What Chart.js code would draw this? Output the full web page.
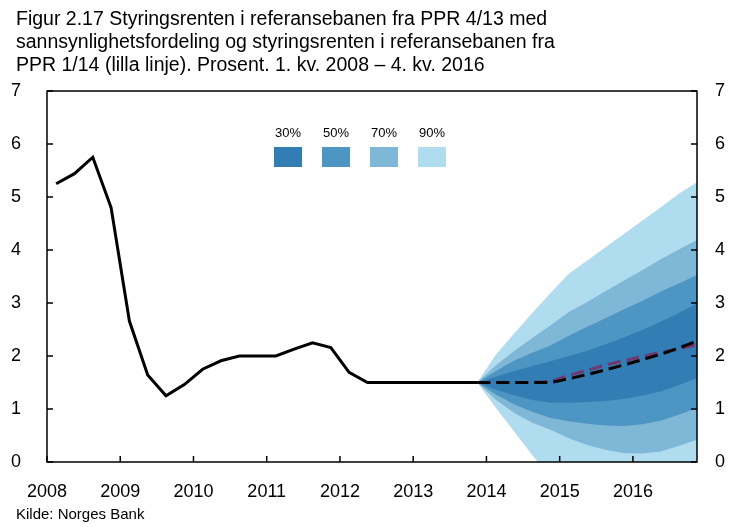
<!DOCTYPE html>
<html><head><meta charset="utf-8">
<script src="https://cdn.jsdelivr.net/npm/chart.js@4/dist/chart.umd.min.js"></script>
<style>
html,body{margin:0;padding:0;background:#fff;}
#wrap{position:relative;width:738px;height:527px;font-family:"Liberation Sans",Arial,Helvetica,sans-serif;color:#000;overflow:hidden;}
#title{position:absolute;left:16px;top:7px;font-size:19.5px;line-height:23px;white-space:nowrap;}
#source{position:absolute;left:16px;top:505px;font-size:15px;line-height:17px;white-space:nowrap;}
#chart{position:absolute;left:0;top:0;}
.lgt{position:absolute;width:40px;text-align:center;font-size:13px;line-height:15px;}
.lgb{position:absolute;width:28px;height:20px;}
</style></head>
<body>
<div id="wrap">
<canvas id="chart" width="738" height="527"></canvas>
<div id="title">Figur 2.17 Styringsrenten i referansebanen fra PPR 4/13 med<br>sannsynlighetsfordeling og styringsrenten i referansebanen fra<br>PPR 1/14 (lilla linje). Prosent. 1. kv. 2008 – 4. kv. 2016</div>
<div id="legend"></div>
<div id="source">Kilde: Norges Bank</div>
</div>
<script>
// ---- categories ----
const histQuarters = ['2008Q1','2008Q2','2008Q3','2008Q4','2009Q1','2009Q2','2009Q3','2009Q4',
  '2010Q1','2010Q2','2010Q3','2010Q4','2011Q1','2011Q2','2011Q3','2011Q4',
  '2012Q1','2012Q2','2012Q3','2012Q4','2013Q1','2013Q2','2013Q3','2013Q4'];
const fcQuarters = ['2013Q4','2014Q1','2014Q2','2014Q3','2014Q4','2015Q1','2015Q2','2015Q3','2015Q4',
  '2016Q1','2016Q2','2016Q3','2016Q4'];
// ---- series ----
const policyRate = [5.25,5.44,5.75,4.80, 2.66,1.64,1.25,1.46, 1.75,1.91,2.00,2.00,
  2.00,2.13,2.25,2.16, 1.69,1.50,1.50,1.50, 1.50,1.50,1.50,1.50];
const pathPPR413 = [1.50,1.50,1.50,1.50,1.50, 1.57,1.65,1.74,1.83, 1.93,2.03,2.15,2.28];
const pathPPR114 = [1.50,1.50,1.50,1.50,1.52, 1.63,1.73,1.83,1.91, 1.99,2.07,2.14,2.21];
const upper90 = [1.50,2.02,2.42,2.81,3.19, 3.55,3.80,4.05,4.30, 4.55,4.80,5.06,5.28];
const upper70 = [1.50,1.82,2.09,2.34,2.58, 2.83,3.02,3.22,3.42, 3.62,3.82,4.01,4.19];
const upper50 = [1.50,1.71,1.91,2.06,2.20, 2.38,2.55,2.71,2.88, 3.04,3.21,3.37,3.53];
const upper30 = [1.50,1.61,1.71,1.81,1.90, 2.00,2.10,2.22,2.35, 2.49,2.64,2.81,2.99];
const lower30 = [1.50,1.37,1.26,1.17,1.12, 1.12,1.13,1.15,1.19, 1.25,1.33,1.45,1.58];
const lower50 = [1.50,1.28,1.09,0.95,0.83, 0.77,0.72,0.69,0.68, 0.71,0.78,0.89,1.02];
const lower70 = [1.50,1.18,0.93,0.74,0.61, 0.45,0.32,0.23,0.17, 0.16,0.20,0.30,0.42];
const lower90 = [1.50,1.03,0.58,0.13,-0.30, -0.60,-0.80,-0.90,-0.95, -0.95,-0.90,-0.85,-0.80];
// ---- ticks / legend ----
const xTickYears = [2008,2009,2010,2011,2012,2013,2014,2015,2016];
const yTicks = [0,1,2,3,4,5,6,7];
const legendLabels = ['30%','50%','70%','90%'];

const C30='#327db4', C50='#4d95c3', C70='#7eb8d6', C90='#b0dcf0';
const legendColors=[C30,C50,C70,C90];

function qToX(q){ const y=+q.slice(0,4), n=+q.slice(5); return y+(n-0.5)/4; }
function pts(qs, vals){ return vals.map((v,i)=>({x:qToX(qs[i]), y:v})); }
function band(vals){ return {data:pts(fcQuarters, vals), borderWidth:0, pointRadius:0, fill:false, tension:0}; }

const datasets = [
  {data:pts(histQuarters, policyRate), borderColor:'#000', borderWidth:3, pointRadius:0, fill:false, tension:0, borderJoinStyle:'miter'},
  {data:pts(fcQuarters, pathPPR413), borderColor:'#000', borderWidth:3, borderDash:[13,6], pointRadius:0, fill:false, tension:0},
  {data:pts(fcQuarters, pathPPR114), borderColor:'#70396f', borderWidth:3, borderDash:[13,6], pointRadius:0, fill:false, tension:0},
  Object.assign(band(upper30), {fill:{target:4, above:C30, below:C30}, backgroundColor:C30}),
  band(lower30),
  Object.assign(band(upper50), {fill:{target:6, above:C50, below:C50}, backgroundColor:C50}),
  band(lower50),
  Object.assign(band(upper70), {fill:{target:8, above:C70, below:C70}, backgroundColor:C70}),
  band(lower70),
  Object.assign(band(upper90), {fill:{target:10, above:C90, below:C90}, backgroundColor:C90}),
  band(lower90)
];

const frame = {
  id:'frame',
  afterDraw(chart){
    const {ctx, chartArea:a, scales} = chart;
    ctx.save();
    ctx.strokeStyle='#000'; ctx.lineWidth=1.5;
    ctx.strokeRect(a.left, a.top, a.right-a.left, a.bottom-a.top);
    ctx.beginPath();
    yTicks.forEach(v=>{
      const y=scales.y.getPixelForValue(v);
      ctx.moveTo(a.left, y); ctx.lineTo(a.left+6, y);
      ctx.moveTo(a.right, y); ctx.lineTo(a.right-6, y);
    });
    xTickYears.forEach(v=>{
      const x=scales.x.getPixelForValue(v);
      ctx.moveTo(x, a.bottom); ctx.lineTo(x, a.bottom-6);
    });
    ctx.stroke();
    ctx.restore();
  }
};

const tickFont = {family:'"Liberation Sans", Arial, sans-serif', size:18};
new Chart(document.getElementById('chart'), {
  type:'line',
  data:{datasets},
  options:{
    responsive:false, animation:false, events:[],
    layout:{padding:{top:91, left:0, right:0, bottom:0}},
    plugins:{legend:{display:false}, tooltip:{enabled:false}, title:{display:false}},
    scales:{
      x:{type:'linear', min:2008, max:2016.875,
         afterBuildTicks:s=>{s.ticks=xTickYears.map(v=>({value:v}));},
         afterFit:s=>{s.height=65;},
         ticks:{font:tickFont, color:'#000', padding:19, autoSkip:false, maxRotation:0, callback:v=>String(v)},
         grid:{display:false, drawTicks:false}, border:{display:false}},
      y:{position:'left', min:0, max:7,
         afterBuildTicks:s=>{s.ticks=yTicks.map(v=>({value:v}));},
         afterFit:s=>{s.width=47;},
         ticks:{font:tickFont, color:'#000', padding:26, callback:v=>String(v)},
         grid:{display:false, drawTicks:false}, border:{display:false}},
      y2:{position:'right', min:0, max:7,
         afterBuildTicks:s=>{s.ticks=yTicks.map(v=>({value:v}));},
         afterFit:s=>{s.width=41;},
         ticks:{font:tickFont, color:'#000', padding:18, callback:v=>String(v)},
         grid:{display:false, drawTicks:false}, border:{display:false}}
    }
  },
  plugins:[frame]
});

// legend (HTML)
const lg=document.getElementById('legend');
const lgX=[274,322,370,418];
legendLabels.forEach((t,i)=>{
  const d=document.createElement('div'); d.className='lgt'; d.textContent=t;
  d.style.left=(lgX[i]+14-20)+'px'; d.style.top='125px'; lg.appendChild(d);
  const b=document.createElement('div'); b.className='lgb'; b.style.background=legendColors[i];
  b.style.left=lgX[i]+'px'; b.style.top='147px'; lg.appendChild(b);
});
</script>
</body></html>
